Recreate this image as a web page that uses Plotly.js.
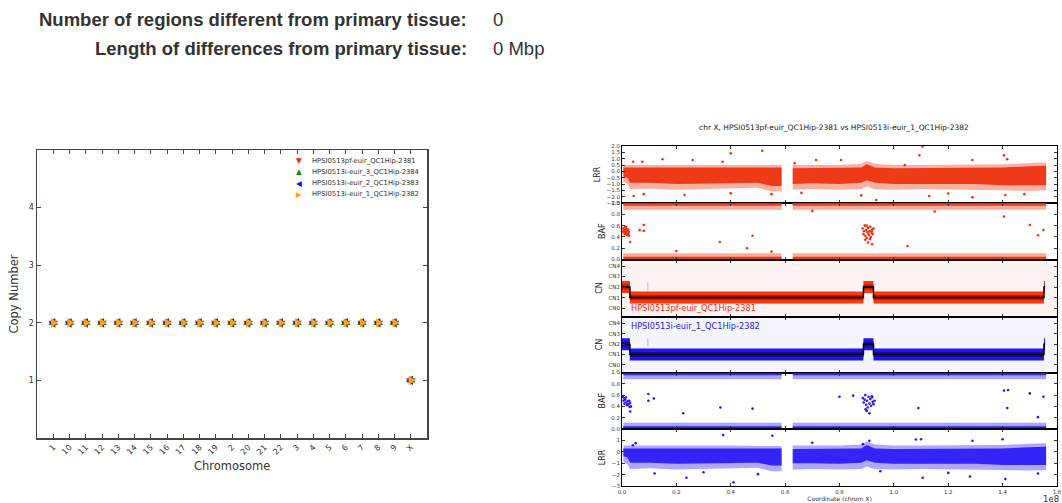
<!DOCTYPE html>
<html><head><meta charset="utf-8">
<script src="https://cdn.plot.ly/plotly-3.0.1.min.js"></script>
<style>html,body{margin:0;padding:0;background:#fff;} #chart{width:1062px;height:503px;}</style>
</head><body><div id="chart"></div>
<script>
// ---------------- DATA ----------------
// Left chart: copy number per chromosome
const chromosomes = ['1','10','11','12','13','14','15','16','17','18','19','2','20','21','22','3','4','5','6','7','8','9','X'];
const sampleNames = ['HPSI0513pf-euir_QC1Hip-2381','HPSI0513i-euir_3_QC1Hip-2384','HPSI0513i-euir_2_QC1Hip-2383','HPSI0513i-euir_1_QC1Hip-2382'];
const cn2381 = [2,2,2,2,2,2,2,2,2,2,2,2,2,2,2,2,2,2,2,2,2,2,1];
const cn2384 = [2,2,2,2,2,2,2,2,2,2,2,2,2,2,2,2,2,2,2,2,2,2,1];
const cn2383 = [2,2,2,2,2,2,2,2,2,2,2,2,2,2,2,2,2,2,2,2,2,2,1];
const cn2382 = [2,2,2,2,2,2,2,2,2,2,2,2,2,2,2,2,2,2,2,2,2,2,1];

// Right chart: chr X, coordinates in units of 1e8
// LRR dense band envelopes (read at positions), two segments around centromere gap
const lrrAX = [0.005,0.02,0.03,0.1,0.2,0.3,0.4,0.5,0.55,0.587];
const lrrBX = [0.628,0.7,0.8,0.88,0.9,0.93,1.0,1.1,1.2,1.3,1.4,1.5,1.56];
const lrrRedCoreHiA = [0.3,0.3,0.3,0.25,0.3,0.3,0.25,0.25,0.3,0.3];
const lrrRedCoreLoA = [-0.4,-0.5,-0.9,-0.9,-1.0,-1.0,-0.95,-0.9,-1.15,-1.15];
const lrrRedHaloHiA = [0.5,0.5,0.55,0.5,0.5,0.55,0.5,0.5,0.5,0.5];
const lrrRedHaloLoA = [-0.8,-1.0,-1.4,-1.35,-1.45,-1.4,-1.35,-1.3,-1.6,-1.6];
const lrrRedCoreHiB = [0.25,0.25,0.25,0.3,0.55,0.3,0.25,0.25,0.25,0.25,0.3,0.4,0.45];
const lrrRedCoreLoB = [-1.0,-0.95,-1.0,-0.9,-0.7,-0.9,-1.0,-0.95,-1.0,-1.0,-1.1,-1.1,-1.1];
const lrrRedHaloHiB = [0.5,0.5,0.5,0.6,0.8,0.6,0.5,0.5,0.5,0.5,0.55,0.65,0.7];
const lrrRedHaloLoB = [-1.45,-1.4,-1.45,-1.4,-1.2,-1.4,-1.45,-1.4,-1.45,-1.45,-1.5,-1.55,-1.5];
const lrrRedOutX = [0.041,0.075,0.149,0.26,0.37,0.40,0.516,0.635,0.714,0.806,1.04,1.094,1.106,1.289,1.405,1.417,0.043,0.23,0.40,0.935,1.13,1.289,1.41,0.55,0.08,0.66,0.88,1.2,1.48];
const lrrRedOutY = [0.76,0.76,0.95,0.9,0.76,1.42,1.63,0.63,0.9,0.9,0.5,1.26,1.97,0.9,1.26,0.95,-1.95,-1.87,-1.74,-2.26,-1.95,-2.05,-1.87,-1.8,-1.8,-1.7,-1.9,-1.75,-1.8];

const lrrBlueCoreHiA = [0.3,0.3,0.3,0.25,0.3,0.3,0.25,0.25,0.3,0.3];
const lrrBlueCoreLoA = [-0.4,-0.5,-0.95,-0.95,-1.05,-1.05,-1.0,-0.95,-1.2,-1.2];
const lrrBlueHaloHiA = [0.55,0.55,0.6,0.55,0.55,0.6,0.55,0.5,0.5,0.5];
const lrrBlueHaloLoA = [-0.9,-1.1,-1.5,-1.45,-1.55,-1.5,-1.45,-1.4,-1.7,-1.7];
const lrrBlueCoreHiB = [0.25,0.25,0.25,0.3,0.6,0.3,0.25,0.25,0.25,0.25,0.3,0.4,0.45];
const lrrBlueCoreLoB = [-1.0,-1.0,-1.05,-0.95,-0.75,-0.95,-1.05,-1.0,-1.05,-1.05,-1.15,-1.15,-1.15];
const lrrBlueHaloHiB = [0.55,0.55,0.55,0.65,0.9,0.65,0.55,0.55,0.55,0.55,0.6,0.7,0.75];
const lrrBlueHaloLoB = [-1.55,-1.5,-1.55,-1.5,-1.3,-1.5,-1.55,-1.5,-1.55,-1.55,-1.6,-1.65,-1.6];
const lrrBlueOutX = [0.04,0.05,0.372,0.553,0.70,0.886,0.91,1.081,1.10,1.289,1.40,0.237,0.41,0.12,0.50,1.106,1.28,1.41,1.53,0.3,0.95,1.2];
const lrrBlueOutY = [0.58,0.76,1.47,1.41,0.79,0.67,0.96,1.08,1.1,0.96,1.1,-2.28,-2.68,-1.9,-1.96,-2.28,-2.17,-2.38,-1.9,-1.8,-1.7,-1.85];

// BAF bands (segment ends, [lo, hi] limits)
const bafSegStart = [0.005, 0.628];
const bafSegEnd = [0.587, 1.56];
const bafTopCore = [0.95, 1.0];
const bafTopHalo = [0.88, 1.0];
const bafBotCore = [0.0, 0.05];
const bafBotHalo = [0.0, 0.11];
const bafRedPtX = [0.08,0.08,0.065,0.03,0.36,0.48,0.46,1.05,1.405,1.5,1.53,1.55,0.92,0.2,0.7,1.15,0.55,
  0.004,0.006,0.008,0.01,0.012,0.014,0.016,0.018,0.02,0.022,0.024,0.026,0.005,0.015,0.025,0.011,0.019,
  0.885,0.888,0.89,0.893,0.895,0.898,0.9,0.903,0.905,0.908,0.91,0.913,0.915,0.918,0.92,0.922,0.925,0.895,0.905,0.912,0.9,0.918];
const bafRedPtY = [0.61,0.51,0.52,0.31,0.31,0.42,0.2,0.24,0.76,0.61,0.43,0.52,0.27,0.15,0.86,0.85,0.14,
  0.55,0.48,0.52,0.45,0.5,0.58,0.47,0.44,0.5,0.53,0.46,0.42,0.5,0.54,0.49,0.57,0.43,
  0.55,0.45,0.5,0.6,0.42,0.52,0.38,0.48,0.56,0.44,0.5,0.58,0.4,0.47,0.53,0.45,0.55,0.35,0.3,0.36,0.6,0.5];
const bafBluePtX = [0.097,0.097,0.117,0.03,0.362,0.48,0.225,0.80,0.85,1.09,1.405,1.42,1.5,1.55,1.417,1.53,
  0.003,0.006,0.009,0.012,0.015,0.018,0.021,0.024,0.027,0.03,0.033,0.008,0.02,0.028,0.014,
  0.886,0.889,0.892,0.895,0.898,0.901,0.904,0.907,0.91,0.913,0.916,0.919,0.922,0.925,0.929,0.9,0.91,0.896,0.92];
const bafBluePtY = [0.62,0.5,0.54,0.31,0.38,0.36,0.28,0.57,0.59,0.37,0.68,0.69,0.63,0.57,0.37,0.21,
  0.57,0.5,0.45,0.52,0.47,0.42,0.49,0.44,0.5,0.46,0.4,0.54,0.43,0.39,0.56,
  0.55,0.47,0.52,0.6,0.43,0.5,0.38,0.57,0.45,0.53,0.41,0.58,0.48,0.44,0.5,0.32,0.28,0.35,0.56];

// Copy number segments (same for both samples)
const cnSegStart = [0.0, 0.029, 0.888, 0.925, 1.552];
const cnSegEnd = [0.029, 0.888, 0.925, 1.552, 1.556];
const cnSegRed = [2, 1, 2, 1, 2];
const cnSegBlue = [2, 1, 2, 1, 2];
const cnMarkX = [0.095, 0.095];
const cnMarkRedY = [1.3, 2.5];
const cnMarkBlueY = [1.8, 2.5];
const cnTickVals = [0,1,2,3,4];
const cnTickText = ['CN0','CN1','CN2','CN3','CN4'];
const coordTicks = [0,0.2,0.4,0.6,0.8,1.0,1.2,1.4,1.6];

// ---------------- STYLE / LAYOUT ----------------
const W = 1062, H = 503;
const dx = (a,b) => [a/W, b/W];
const dy = (t,b) => [1-b/H, 1-t/H];
const px = a => a/W, py = a => 1-a/H;
const RED = 'rgb(238,48,12)', BLUE = 'rgb(40,25,250)';
const markerColors = ['rgb(240,40,20)','rgb(30,130,20)','rgb(20,20,240)','rgb(255,165,0)'];
const markerSymbols = ['triangle-down','triangle-up','triangle-left','triangle-right'];
const legendGlyphs = ['\u25BC','\u25B2','\u25C0','\u25B6'];
const F = 'DejaVu Sans, sans-serif';

function poly(parts){
  let X=[],Y=[];
  parts.forEach((p,i)=>{
    if(i){X.push(null);Y.push(null);}
    X = X.concat(p[0], p[0].slice().reverse(), [p[0][0]]);
    Y = Y.concat(p[1], p[2].slice().reverse(), [p[1][0]]);
  });
  return {x:X,y:Y};
}
function bafParts(lim){
  return bafSegStart.map((s,i)=>[[s,bafSegEnd[i]],[lim[1],lim[1]],[lim[0],lim[0]]]);
}
function fillTrace(pp, color, op, xa, ya){
  return {x:pp.x, y:pp.y, mode:'lines', fill:'toself', fillcolor:color.replace('rgb','rgba').replace(')',','+op+')'),
    line:{width:0, color:color}, xaxis:xa, yaxis:ya, hoverinfo:'skip', showlegend:false};
}
function ptTrace(xs, ys, color, xa, ya){
  return {x:xs, y:ys, mode:'markers', marker:{size:2.6, color:color}, xaxis:xa, yaxis:ya, showlegend:false};
}
function segLines(vals){
  let X=[],Y=[];
  cnSegStart.forEach((s,i)=>{ X.push(s, cnSegEnd[i], null); Y.push(vals[i], vals[i], null); });
  return {x:X,y:Y};
}
function stepLine(vals){
  return {x:cnSegStart.concat([cnSegEnd[cnSegEnd.length-1]]), y:vals.concat([vals[vals.length-1]])};
}

const traces = [];
// Left chart
[cn2381, cn2384, cn2383, cn2382].forEach((arr,i)=>{
  traces.push({x:chromosomes, y:arr, name:sampleNames[i], type:'scatter', mode:'markers',
    marker:{symbol:markerSymbols[i], size:8.5, color:markerColors[i], line:{width:0}}, xaxis:'x', yaxis:'y', showlegend:false});
});

// Right panels: 2 LRR red, 3 BAF red, 4 CN red, 5 CN blue, 6 BAF blue, 7 LRR blue
traces.push(fillTrace(poly([[lrrAX,lrrRedHaloHiA,lrrRedHaloLoA],[lrrBX,lrrRedHaloHiB,lrrRedHaloLoB]]), RED, 0.38, 'x2','y2'));
traces.push(fillTrace(poly([[lrrAX,lrrRedCoreHiA,lrrRedCoreLoA],[lrrBX,lrrRedCoreHiB,lrrRedCoreLoB]]), RED, 0.92, 'x2','y2'));
traces.push(ptTrace(lrrRedOutX, lrrRedOutY, RED, 'x2','y2'));
traces.push(fillTrace(poly(bafParts(bafTopHalo)), RED, 0.4, 'x3','y3'));
traces.push(fillTrace(poly(bafParts(bafTopCore)), RED, 0.9, 'x3','y3'));
traces.push(fillTrace(poly(bafParts(bafBotHalo)), RED, 0.4, 'x3','y3'));
traces.push(fillTrace(poly(bafParts(bafBotCore)), RED, 0.95, 'x3','y3'));
traces.push(ptTrace(bafRedPtX, bafRedPtY, RED, 'x3','y3'));
const sr = segLines(cnSegRed), stR = stepLine(cnSegRed);
traces.push({x:cnMarkX, y:cnMarkRedY, mode:'lines', line:{color:'rgba(240,90,90,0.45)', width:1}, xaxis:'x4', yaxis:'y4', showlegend:false});
traces.push({x:sr.x, y:sr.y, mode:'lines', line:{color:'rgb(250,55,15)', width:12}, xaxis:'x4', yaxis:'y4', showlegend:false});
traces.push({x:sr.x, y:sr.y, mode:'lines', line:{color:'rgb(185,30,10)', width:5}, xaxis:'x4', yaxis:'y4', showlegend:false});
traces.push({x:stR.x, y:stR.y, mode:'lines', line:{color:'#000', width:1.5, shape:'hv'}, xaxis:'x4', yaxis:'y4', showlegend:false});
const sb = segLines(cnSegBlue), stB = stepLine(cnSegBlue);
traces.push({x:cnMarkX, y:cnMarkBlueY, mode:'lines', line:{color:'rgba(90,90,240,0.45)', width:1}, xaxis:'x5', yaxis:'y5', showlegend:false});
traces.push({x:sb.x, y:sb.y, mode:'lines', line:{color:'rgb(30,20,250)', width:12}, xaxis:'x5', yaxis:'y5', showlegend:false});
traces.push({x:sb.x, y:sb.y, mode:'lines', line:{color:'rgb(20,10,170)', width:5}, xaxis:'x5', yaxis:'y5', showlegend:false});
traces.push({x:stB.x, y:stB.y, mode:'lines', line:{color:'#000', width:1.5, shape:'hv'}, xaxis:'x5', yaxis:'y5', showlegend:false});
traces.push(fillTrace(poly(bafParts(bafTopHalo)), BLUE, 0.4, 'x6','y6'));
traces.push(fillTrace(poly(bafParts(bafTopCore)), BLUE, 0.9, 'x6','y6'));
traces.push(fillTrace(poly(bafParts(bafBotHalo)), BLUE, 0.4, 'x6','y6'));
traces.push(fillTrace(poly(bafParts(bafBotCore)), BLUE, 0.95, 'x6','y6'));
traces.push(ptTrace(bafBluePtX, bafBluePtY, BLUE, 'x6','y6'));
traces.push(fillTrace(poly([[lrrAX,lrrBlueHaloHiA,lrrBlueHaloLoA],[lrrBX,lrrBlueHaloHiB,lrrBlueHaloLoB]]), BLUE, 0.38, 'x7','y7'));
traces.push(fillTrace(poly([[lrrAX,lrrBlueCoreHiA,lrrBlueCoreLoA],[lrrBX,lrrBlueCoreHiB,lrrBlueCoreLoB]]), BLUE, 0.92, 'x7','y7'));
traces.push(ptTrace(lrrBlueOutX, lrrBlueOutY, BLUE, 'x7','y7'));

const layout = {
  width: W, height: H, margin:{l:0,r:0,t:0,b:0}, paper_bgcolor:'#fff', plot_bgcolor:'rgba(0,0,0,0)',
  showlegend:false, font:{family:F, color:'#333'},
  title:{text:'chr X, HPSI0513pf-euir_QC1Hip-2381 vs HPSI0513i-euir_1_QC1Hip-2382', x:px(834), y:py(127), xanchor:'center', yanchor:'middle', font:{family:F, size:7.5, color:'#222'}},
  xaxis:{domain:dx(37,427), type:'category', range:[-1,23], ticks:'inside', ticklen:4, tickcolor:'#444', mirror:'ticks', showline:true, linecolor:'#444', linewidth:1.5,
    showgrid:false, zeroline:false, tickangle:-45, tickfont:{size:8, color:'#333'}, anchor:'y'},
  yaxis:{domain:dy(150,438), range:[0,5], tickvals:[1,2,3,4], ticks:'inside', ticklen:4, tickcolor:'#444', mirror:'ticks', showline:true, linecolor:'#444', linewidth:1.5,
    showgrid:false, zeroline:false, tickfont:{size:8, color:'#333'},
    title:{text:'Copy Number', font:{size:11.5, color:'#333'}, standoff:8}, anchor:'x'},
  annotations:[], shapes:[]
};

const rows = [[146,203],[203,259.5],[259.5,316.5],[316.5,372.5],[372.5,429],[429,486]];
const yCfg = [
  {range:[-2.5,2.0], tickvals:[-2.5,-2,-1.5,-1,-0.5,0,0.5,1,1.5,2], tickformat:'.1f', title:'LRR'},
  {range:[0,1], tickvals:[0,0.2,0.4,0.6,0.8,1.0], tickformat:'.1f', title:'BAF'},
  {range:[-0.8,4.62], tickvals:cnTickVals, ticktext:cnTickText, title:'CN'},
  {range:[-0.72,4.65], tickvals:cnTickVals, ticktext:cnTickText, title:'CN'},
  {range:[0,1], tickvals:[0,0.2,0.4,0.6,0.8,1.0], tickformat:'.1f', title:'BAF'},
  {range:[-3,2], tickvals:[-3,-2,-1,0,1], tickformat:'d', title:'LRR'}
];
rows.forEach((r,i)=>{
  const n = i+2;
  const xa = {domain:dx(622,1057), range:[0,1.6], tickvals:coordTicks, tickformat:'.1f', ticks:'inside', ticklen:3, tickcolor:'#333',
    mirror:'ticks', showline:true, linecolor:'#000', linewidth:1, showgrid:false, zeroline:false, anchor:'y'+n,
    showticklabels: i===5, tickfont:{size:5.5, color:'#333'}};
  if(i===5){ xa.title = {text:'Coordinate (chrom X)', font:{size:6, color:'#333'}, standoff:2}; }
  const c = yCfg[i];
  const ya = {domain:dy(r[0],r[1]), range:c.range, tickvals:c.tickvals, ticks:'inside', ticklen:3, tickcolor:'#333',
    mirror:'ticks', showline:true, linecolor:'#000', linewidth:1, showgrid:false, zeroline:false, anchor:'x'+n,
    tickfont:{size:5.5, color:'#333'}, title:{text:c.title, font:{size:8, color:'#222'}, standoff:4}};
  if(c.ticktext){ ya.ticktext = c.ticktext; } else { ya.tickformat = c.tickformat; }
  layout['xaxis'+n] = xa; layout['yaxis'+n] = ya;
});

layout.shapes.push({type:'rect', xref:'x4 domain', yref:'y4 domain', x0:0, x1:1, y0:0, y1:1, fillcolor:'rgb(253,244,243)', line:{width:0}, layer:'below'});
layout.shapes.push({type:'rect', xref:'x5 domain', yref:'y5 domain', x0:0, x1:1, y0:0, y1:1, fillcolor:'rgb(245,245,253)', line:{width:0}, layer:'below'});

const A = layout.annotations;
const hdr = {family:'Liberation Sans, Arial, sans-serif', size:18.5, color:'#333'};
A.push({xref:'paper', yref:'paper', x:px(469), y:py(20), xanchor:'right', yanchor:'middle', showarrow:false, text:'<b>Number of regions different from primary tissue:</b>', font:hdr});
A.push({xref:'paper', yref:'paper', x:px(491), y:py(20), xanchor:'left', yanchor:'middle', showarrow:false, text:'0', font:hdr});
A.push({xref:'paper', yref:'paper', x:px(469), y:py(48), xanchor:'right', yanchor:'middle', showarrow:false, text:'<b>Length of differences from primary tissue:</b>', font:hdr});
A.push({xref:'paper', yref:'paper', x:px(491), y:py(48), xanchor:'left', yanchor:'middle', showarrow:false, text:'0 Mbp', font:hdr});
// x-axis title of left chart
A.push({xref:'paper', yref:'paper', x:px(232), y:py(466), xanchor:'center', yanchor:'middle', showarrow:false, text:'Chromosome', font:{family:F, size:11.5, color:'#333'}});
sampleNames.forEach((nm,i)=>{
  const yy = py(160.7 + 11.2*i);
  A.push({xref:'paper', yref:'paper', x:px(299), y:yy, xanchor:'center', yanchor:'middle', showarrow:false, text:legendGlyphs[i], font:{family:F, size:7.5, color:markerColors[i]}});
  A.push({xref:'paper', yref:'paper', x:px(310), y:yy, xanchor:'left', yanchor:'middle', showarrow:false, text:nm, font:{family:F, size:6.8, color:'#333'}});
});
A.push({xref:'paper', yref:'paper', x:px(629), y:py(308), xanchor:'left', yanchor:'middle', showarrow:false, text:sampleNames[0], font:{family:F, size:8.2, color:RED}});
A.push({xref:'paper', yref:'paper', x:px(629), y:py(326), xanchor:'left', yanchor:'middle', showarrow:false, text:sampleNames[3], font:{family:F, size:8.2, color:BLUE}});
A.push({xref:'paper', yref:'paper', x:px(1061), y:py(499), xanchor:'right', yanchor:'middle', showarrow:false, text:'1e8', font:{family:F, size:8.5, color:'#333'}});

Plotly.newPlot('chart', traces, layout, {staticPlot:true, displayModeBar:false});
</script></body></html>
